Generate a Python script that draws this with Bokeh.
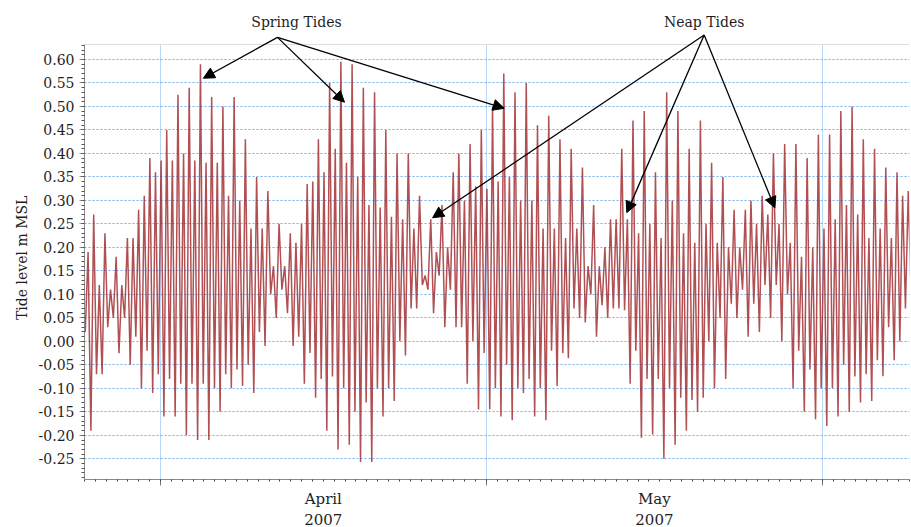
import numpy as np
import pandas as pd
from bokeh.plotting import figure
from bokeh.models import (ColumnDataSource, FixedTicker, NumeralTickFormatter,
                          Label, Arrow, NormalHead, Span, LinearAxis, Grid,
                          CustomLabelingPolicy)
from bokeh.embed import file_html
from bokeh.resources import INLINE

# Record window and tide timing
record_start = pd.Timestamp("2007-03-25")
record_end = pd.Timestamp("2007-06-09")
first_turn_hours = 1.7      # first low water after the record start
half_tide_hours = 6.21      # high water to low water spacing (half an M2 cycle)

# Successive high-water levels (m MSL)
high_water = [
    0.19, 0.27, 0.12, 0.23, 0.11, 0.18, 0.12, 0.22, 0.22, 0.28,
    0.31, 0.39, 0.36, 0.385, 0.45, 0.385, 0.525, 0.40, 0.54, 0.385,
    0.59, 0.38, 0.52, 0.38, 0.50, 0.31, 0.52, 0.30, 0.43, 0.24,
    0.35, 0.24, 0.32, 0.16, 0.25, 0.16, 0.23, 0.21, 0.25, 0.335,
    0.34, 0.43, 0.36, 0.55, 0.41, 0.595, 0.38, 0.59, 0.35, 0.54,
    0.29, 0.53, 0.285, 0.45, 0.265, 0.40, 0.26, 0.40, 0.24, 0.31,
    0.14, 0.26, 0.19, 0.29, 0.20, 0.36, 0.40, 0.30, 0.42, 0.33,
    0.45, 0.325, 0.50, 0.34, 0.57, 0.35, 0.53, 0.30, 0.55, 0.30,
    0.46, 0.24, 0.48, 0.24, 0.43, 0.22, 0.41, 0.24, 0.37, 0.16,
    0.29, 0.16, 0.20, 0.26, 0.26, 0.41, 0.26, 0.47, 0.23, 0.49,
    0.25, 0.36, 0.22, 0.53, 0.30, 0.49, 0.23, 0.41, 0.21, 0.47,
    0.25, 0.38, 0.21, 0.35, 0.20, 0.28, 0.20, 0.28, 0.30, 0.25,
    0.31, 0.27, 0.40, 0.25, 0.42, 0.21, 0.42, 0.18, 0.39, 0.20,
    0.44, 0.24, 0.44, 0.26, 0.49, 0.29, 0.50, 0.27, 0.43, 0.22,
    0.41, 0.24, 0.37, 0.22, 0.36, 0.31, 0.32,
]

# Successive low-water levels (m MSL); the first one opens the record
low_water = [
    0.02,
    -0.19, -0.07, -0.07, 0.03, 0.05, -0.025, 0.05, -0.05, 0.01, -0.10,
    -0.02, -0.11, -0.07, -0.16, -0.08, -0.16, -0.09, -0.20, -0.09, -0.21,
    -0.09, -0.21, -0.10, -0.15, -0.07, -0.10, -0.06, -0.095, -0.05, -0.11,
    0.02, -0.01, 0.10, 0.05, 0.11, 0.06, -0.01, 0.01, -0.09, -0.025,
    -0.12, -0.08, -0.19, -0.075, -0.23, -0.10, -0.22, -0.15, -0.257, -0.13,
    -0.257, -0.10, -0.16, -0.10, -0.127, 0.0, -0.03, 0.07, 0.07, 0.12,
    0.11, 0.06, 0.14, 0.03, 0.11, 0.03, 0.03, -0.09, 0.0, -0.145,
    -0.025, -0.145, -0.10, -0.16, -0.05, -0.168, -0.10, -0.11, -0.08, -0.16,
    -0.10, -0.168, -0.02, -0.095, -0.025, -0.036, 0.07, 0.05, 0.04, 0.10,
    0.01, 0.077, 0.05, 0.07, 0.07, 0.066, -0.09, -0.02, -0.205, -0.08,
    -0.198, -0.08, -0.25, -0.10, -0.22, -0.12, -0.19, -0.125, -0.15, -0.12,
    0.0, -0.10, 0.05, -0.08, 0.08, 0.05, 0.11, 0.01, 0.08, 0.02,
    0.12, 0.05, 0.12, 0.0, 0.10, -0.10, -0.02, -0.15, -0.06, -0.166,
    -0.10, -0.18, -0.10, -0.16, -0.05, -0.15, -0.075, -0.13, -0.07, -0.127,
    -0.04, -0.074, 0.03, -0.04, 0.0, 0.07, 0.10,
]

# Axis settings
level_min, level_max = -0.294, 0.632     # plotted level window (m MSL)
level_ticks = [round(-0.25 + 0.05 * k, 2) for k in range(18)]   # -0.25 .. 0.60
level_minor = [round(-0.29 + 0.01 * k, 2) for k in range(93)]   # every 0.01
level_title = "Tide level m MSL"
month_names = ["April", "May"]
month_year = "2007"
month_starts = [pd.Timestamp("2007-04-01"), pd.Timestamp("2007-05-01"),
                pd.Timestamp("2007-06-01")]

# Annotation anchors: (time, level)
spring_text = (pd.Timestamp("2007-04-13 12:45"), 0.679)
spring_from = (pd.Timestamp("2007-04-11 18:40"), 0.647)
spring_to = [(pd.Timestamp("2007-04-04 22:50"), 0.560),
             (pd.Timestamp("2007-04-17 22:50"), 0.509),
             (pd.Timestamp("2007-05-02 15:50"), 0.496)]
neap_text = (pd.Timestamp("2007-05-21 02:00"), 0.679)
neap_from = (pd.Timestamp("2007-05-21 02:00"), 0.652)
neap_to = [(pd.Timestamp("2007-04-26 01:40"), 0.263),
           (pd.Timestamp("2007-05-13 23:00"), 0.274),
           (pd.Timestamp("2007-05-27 14:20"), 0.284)]

# Interleave low and high water into one record
levels = [low_water[0]]
for hw, lw in zip(high_water, low_water[1:]):
    levels += [hw, lw]
hours = first_turn_hours + half_tide_hours * np.arange(len(levels))
times = record_start + pd.to_timedelta(hours, unit="h")
src = ColumnDataSource(dict(t=times, level=levels))


def ms(ts):
    return int(ts.value // 10**6)


SERIF = "DejaVu Serif"
INK = "#1e1e1e"
GRID = "#4f9ef2"

# The frame reaches the top of the canvas so the call-outs above the
# level window stay visible; the axis and grid are bounded to the window.
px_per_unit = 436.0 / (level_max - level_min)
y_top = level_max + 44.0 / px_per_unit

p = figure(width=911, height=527, x_axis_type="datetime",
           x_range=(record_start, record_end), y_range=(level_min, y_top),
           output_backend="svg", toolbar_location=None,
           min_border_left=84, min_border_right=2,
           min_border_top=0, min_border_bottom=47,
           background_fill_color="white", border_fill_color="white")
p.outline_line_color = None
p.add_layout(Span(location=level_max, dimension="width",
                  line_color="#dcdcdc", line_width=1))

p.line("t", "level", source=src, line_color="#9a1f22", line_width=1.5,
       line_alpha=0.78)

# y axis: 0.05 labels, 0.01 minor ticks
p.yaxis.ticker = FixedTicker(ticks=level_ticks, minor_ticks=level_minor)
p.ygrid.ticker = FixedTicker(ticks=level_ticks)
p.yaxis.bounds = (level_min, level_max)
p.yaxis.formatter = NumeralTickFormatter(format="0.00")
# the axis title is centred on the whole frame; trailing no-break spaces
# bring it back to the middle of the level window
p.yaxis.axis_label = level_title + "\u00a0" * 8
p.yaxis.axis_label_text_font = SERIF
p.yaxis.axis_label_text_font_size = "14px"
p.yaxis.axis_label_text_font_style = "normal"
p.yaxis.axis_label_text_color = INK
p.yaxis.axis_label_standoff = 6
p.yaxis.major_label_text_font = SERIF
p.yaxis.major_label_text_font_size = "14px"
p.yaxis.major_label_text_color = INK
p.yaxis.axis_line_color = "#8a8a8a"
p.yaxis.major_tick_line_color = "#9a9a9a"
p.yaxis.major_tick_out = 5
p.yaxis.major_tick_in = 0
p.yaxis.minor_tick_line_color = "#555555"
p.yaxis.minor_tick_out = 3
p.yaxis.minor_tick_in = 0

# x axis: month boundaries as major ticks, days as minor ticks, no labels
day_ticks = [ms(d) for d in pd.date_range(record_start, record_end, freq="D")]
month_ticks = [ms(d) for d in month_starts]
p.xaxis.ticker = FixedTicker(ticks=month_ticks, minor_ticks=day_ticks)
p.xaxis.major_label_policy = CustomLabelingPolicy(code="return new Set()")
p.xaxis.major_label_text_font_size = "1px"
p.xaxis.major_label_standoff = 0
p.xaxis.axis_line_color = "#8a8a8a"
p.xaxis.major_tick_line_color = "#777777"
p.xaxis.major_tick_out = 6
p.xaxis.major_tick_in = 0
p.xaxis.minor_tick_line_color = "#444444"
p.xaxis.minor_tick_out = 2
p.xaxis.minor_tick_in = 0

# two caption rows under the axis: month name, then year, at mid-month
mid_months = [(a + b) // 2 for a, b in zip(month_ticks[:-1], month_ticks[1:])]


def caption_axis(texts, standoff):
    return LinearAxis(ticker=FixedTicker(ticks=mid_months, minor_ticks=[]),
                      major_label_overrides=dict(zip(mid_months, texts)),
                      axis_line_color=None, major_tick_line_color=None,
                      minor_tick_line_color=None,
                      major_tick_out=0, major_tick_in=0,
                      minor_tick_out=0, minor_tick_in=0,
                      major_label_standoff=standoff,
                      major_label_text_font=SERIF,
                      major_label_text_font_size="15px",
                      major_label_text_line_height=1.0,
                      major_label_text_color=INK)


p.add_layout(caption_axis(month_names, 0), "below")
p.add_layout(caption_axis([month_year] * len(month_names), 3), "below")

# grid
p.ygrid.grid_line_color = GRID
p.ygrid.grid_line_dash = "2 2"
p.ygrid.grid_line_alpha = 0.8
if "cross_bounds" in Grid.properties():
    p.xgrid.ticker = FixedTicker(ticks=month_ticks)
    p.xgrid.cross_bounds = (level_min, level_max)
    p.xgrid.grid_line_color = GRID
    p.xgrid.grid_line_dash = "1 1"
    p.xgrid.grid_line_alpha = 0.8
else:
    p.xgrid.visible = False
    p.segment(x0=month_ticks, x1=month_ticks,
              y0=[level_min] * len(month_ticks), y1=[level_max] * len(month_ticks),
              line_color=GRID, line_dash="1 1", line_alpha=0.8, level="underlay")

# Spring / neap call-outs
for (tx, ty), txt in ((spring_text, "Spring Tides"), (neap_text, "Neap Tides")):
    p.add_layout(Label(x=ms(tx), y=ty, text=txt, text_align="center",
                       text_baseline="middle", text_font=SERIF,
                       text_font_size="14px", text_color=INK))

for origin, targets in ((spring_from, spring_to), (neap_from, neap_to)):
    for tx, ty in targets:
        p.add_layout(Arrow(end=NormalHead(size=11, fill_color="black",
                                          line_color="black", line_width=1),
                           x_start=ms(origin[0]), y_start=origin[1],
                           x_end=ms(tx), y_end=ty,
                           line_color="black", line_width=1.3))

open("out.html", "w").write(file_html(p, INLINE))
